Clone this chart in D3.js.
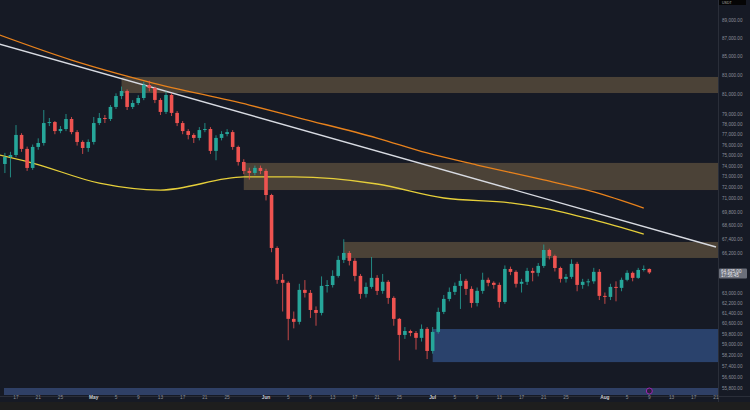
<!DOCTYPE html>
<html>
<head>
<meta charset="utf-8">
<script src="https://cdn.jsdelivr.net/npm/d3@7"></script>
<style>
  body { margin: 0; background: #1e1e1e; }
  svg { display: block; font-family: "Liberation Sans", Arial, sans-serif; }
</style>
</head>
<body>
<svg id="chart" width="750" height="410"></svg>
<script>
// daily candles, first one is Apr 15
const startDate = "2024-04-15";
const firstOpen = 74150;
const closes = [74810,75000,76930,75580,73780,75770,76150,78100,78200,77310,
  77510,78500,77210,76250,75670,76250,78100,78600,78500,79710,
  80820,81340,79710,80110,80620,81960,81650,80420,79210,80930,
  79110,78100,77310,76930,76640,77410,77510,75390,76640,77020,
  77210,75770,74340,73500,73310,73780,73500,71290,66660,64020,
  63780,60930,60700,63210,62970,61620,61390,63530,63600,64340,
  65660,66240,65580,64340,62890,63450,64180,63130,63860,62570,
  60930,59700,60000,59850,59480,60160,58500,59930,61470,62490,63050,
  63530,63940,63290,62170,63130,64020,63780,63610,62250,64910,
  64670,63700,63860,64750,64590,65160,66490,65990,64990,64100,
  64260,65330,63610,63860,63900,64670,62730,62650,63450,63370,
  64020,64590,64180,64830,64910,64625];
const highs = [75200,75300,77900,77100,75800,76000,76600,79400,78600,78300,
  77800,79000,78700,77400,76400,76500,78700,79100,78900,79900,
  81100,81800,81500,80400,80900,82300,82400,81800,80600,81300,
  81100,79300,78300,77500,77100,77700,78100,77700,76900,77300,
  77500,77400,75900,74600,73800,74000,74000,73700,71400,66800,
  64500,63900,61500,63700,64000,63200,61900,64300,64000,64800,
  66000,67400,66400,65800,64500,63800,65900,64400,64500,64000,
  62700,61000,60300,60100,60000,60500,60300,60300,61800,62800,63400,
  63800,64500,64100,63500,63400,64600,64200,63900,63800,65200,
  65100,64800,64100,65000,65000,65400,66950,66600,66100,65100,
  64500,65700,65500,64100,64100,65000,64900,63000,63700,63900,
  64200,64800,64700,65000,65200,64950];
const lows = [73300,72900,74800,75300,73500,73600,75500,75900,77800,77000,
  77100,77300,77000,75900,75100,75300,76000,77900,78100,78300,
  79500,80500,79400,79500,79900,80400,81300,80100,78900,79000,
  78800,77800,77000,76500,76150,76400,77200,75100,74500,76400,
  76800,75500,74000,73200,72700,73100,73200,70800,66300,63700,
  61500,59300,60200,60500,62600,61000,60400,61200,63000,63400,
  64200,65400,65200,63900,62500,62600,63300,62800,62900,62100,
  60400,57800,59400,59600,58600,59200,57900,58300,59800,61300,62300,
  62800,61700,62800,61800,61900,62900,63500,63300,61800,62100,
  64400,63400,63000,63600,63900,64300,65000,65700,64700,63800,
  63800,64100,63100,63300,63500,63700,62400,62100,62400,62300,
  63100,63900,63900,64100,64700,64500];

// moving averages and trend line
const maSlowDates = ["2024-04-14","2024-04-27","2024-05-11","2024-05-29","2024-06-07","2024-06-21","2024-06-30","2024-07-09","2024-07-21","2024-07-30","2024-08-08"];
const maSlow = [87330,84590,82270,79900,78600,76630,75190,74050,72660,71570,70120];
const maFastDates = ["2024-04-14","2024-04-20","2024-05-02","2024-05-13","2024-05-28","2024-06-06","2024-06-21","2024-07-03","2024-07-15","2024-07-21","2024-07-30","2024-08-08"];
const maFast = [75000,74240,72370,71740,72940,72940,72290,71020,70580,70120,69070,67840];
const trendDates = ["2024-04-14","2024-08-21"];
const trend = [86330,66740];

// zones: start date, top, bottom
const zoneStarts = ["2024-05-06","2024-05-28","2024-06-15","2024-07-01"];
const zoneTops = [82800,74250,67170,60150];
const zoneBottoms = [81130,71740,65820,57680];
const zoneKinds = ["supply","supply","supply","demand"];

const priceTicks = [89000,87000,85000,83000,81000,79000,78000,77000,76000,75000,74000,73000,72000,71000,69800,68600,67400,66200,63000,62200,61400,60600,59800,59000,58200,57400,56600,55800];
const dateTicks = ["2024-04-17","2024-04-21","2024-04-25","2024-05-01","2024-05-05","2024-05-09","2024-05-13","2024-05-17","2024-05-21","2024-05-25",
  "2024-06-01","2024-06-05","2024-06-09","2024-06-13","2024-06-17","2024-06-21","2024-06-25",
  "2024-07-01","2024-07-05","2024-07-09","2024-07-13","2024-07-17","2024-07-21","2024-07-25",
  "2024-08-01","2024-08-05","2024-08-09","2024-08-13","2024-08-17","2024-08-21"];
const lastPrice = 64625;
const countdown = "17:56:45";
const eventDate = "2024-08-09";

const W = 750, H = 410, plotR = 718, plotB = 386;
const parse = d3.utcParse("%Y-%m-%d");
const svg = d3.select("#chart");

const x = d3.scaleUtc().domain([parse("2024-04-17"), parse("2024-08-21")]).range([16, 716]);
const y = d3.scaleLog().domain([89000, 56600]).range([20, 377]);

const candles = closes.map((c, i) => ({
  date: d3.utcDay.offset(parse(startDate), i),
  open: i === 0 ? firstOpen : closes[i - 1],
  close: c, high: highs[i], low: lows[i]
}));

svg.append("rect").attr("width", W).attr("height", H).attr("fill", "#1e1e1e");
svg.append("rect").attr("width", plotR).attr("height", plotB).attr("fill", "#161a25");
svg.append("rect").attr("x", plotR).attr("width", W - plotR).attr("height", 402).attr("fill", "#161a25");
svg.append("rect").attr("y", plotB).attr("width", plotR).attr("height", 16).attr("fill", "#161a25");
svg.append("line").attr("x1", plotR + 0.5).attr("x2", plotR + 0.5).attr("y1", 0).attr("y2", 402).attr("stroke", "#2a2e39");
svg.append("line").attr("x1", 0).attr("x2", W).attr("y1", plotB + 10.5).attr("y2", plotB + 10.5).attr("stroke", "#2a2e39");

// zones
svg.append("g").selectAll("rect").data(zoneStarts).join("rect")
  .attr("x", d => x(parse(d)))
  .attr("width", d => plotR - x(parse(d)))
  .attr("y", (d, i) => y(zoneTops[i]))
  .attr("height", (d, i) => y(zoneBottoms[i]) - y(zoneTops[i]))
  .attr("fill", (d, i) => zoneKinds[i] === "demand" ? "#2b4470" : "#4e4538")
  .attr("opacity", 0.95);

// lower pane strip
svg.append("rect").attr("x", 4).attr("y", 388).attr("width", plotR - 4).attr("height", 7).attr("fill", "#2f4066");

const line = d3.line().x(d => x(parse(d[0]))).y(d => y(d[1])).curve(d3.curveMonotoneX);
svg.append("path").attr("d", line(d3.zip(maSlowDates, maSlow))).attr("fill", "none").attr("stroke", "#e8821c").attr("stroke-width", 1.3);
svg.append("path").attr("d", line(d3.zip(maFastDates, maFast))).attr("fill", "none").attr("stroke", "#e6cf3a").attr("stroke-width", 1.3);
svg.append("path").attr("d", line(d3.zip(trendDates, trend))).attr("fill", "none").attr("stroke", "#d8dbe2").attr("stroke-width", 1.4);

// candles
const up = "#26a69a", down = "#ef5350";
const bw = 3.6;
const g = svg.append("g");
g.selectAll("line").data(candles).join("line")
  .attr("x1", d => x(d.date)).attr("x2", d => x(d.date))
  .attr("y1", d => y(d.high)).attr("y2", d => y(d.low))
  .attr("stroke", d => d.close >= d.open ? up : down).attr("stroke-width", 0.8);
g.selectAll("rect").data(candles).join("rect")
  .attr("x", d => x(d.date) - bw / 2).attr("width", bw)
  .attr("y", d => y(Math.max(d.open, d.close)))
  .attr("height", d => Math.max(1, Math.abs(y(d.open) - y(d.close))))
  .attr("fill", d => d.close >= d.open ? up : down);

// event marker
svg.append("circle").attr("cx", x(parse(eventDate))).attr("cy", 391).attr("r", 3)
  .attr("fill", "#2a1f3d").attr("stroke", "#9c27b0").attr("stroke-width", 1);

// price axis
const fmt = d3.format(",.2f");
svg.append("g").selectAll("text").data(priceTicks).join("text")
  .attr("x", 722).attr("y", d => y(d) + 2)
  .attr("font-size", 4.6).attr("fill", "#8b8f99")
  .text(d => fmt(d));

// last price label
const ly = y(lastPrice);
svg.append("rect").attr("x", 719).attr("y", ly - 4).attr("width", 28).attr("height", 10).attr("rx", 1).attr("fill", "#6b6f7a");
svg.append("text").attr("x", 721).attr("y", ly + 0.5).attr("font-size", 4.6).attr("fill", "#e8e8ee").text(fmt(lastPrice));
svg.append("text").attr("x", 721).attr("y", ly + 5).attr("font-size", 4.6).attr("fill", "#e8e8ee").text(countdown);
svg.append("rect").attr("x", 719).attr("y", 0).attr("width", 27).attr("height", 5).attr("fill", "#050505");
svg.append("text").attr("x", 722).attr("y", 4).attr("font-size", 3.6).attr("fill", "#aaa").text("USDT");

// date axis
const dfmt = d => {
  const dt = parse(d);
  return dt.getUTCDate() === 1 ? d3.utcFormat("%b")(dt) : String(dt.getUTCDate());
};
svg.append("g").selectAll("text").data(dateTicks).join("text")
  .attr("x", d => x(parse(d))).attr("y", 399)
  .attr("text-anchor", "middle").attr("font-size", 4.8)
  .attr("fill", d => parse(d).getUTCDate() === 1 ? "#c8cad0" : "#8b8f99")
  .attr("font-weight", d => parse(d).getUTCDate() === 1 ? "bold" : "normal")
  .text(dfmt);
</script>
</body>
</html>
